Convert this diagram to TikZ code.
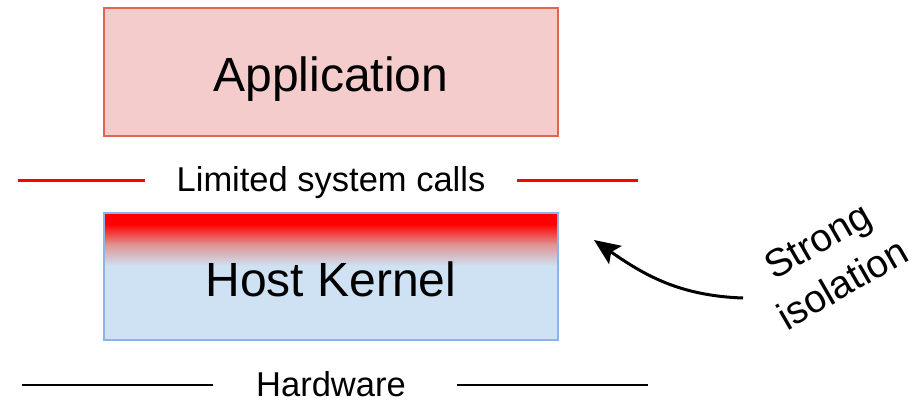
\documentclass[tikz,border=0pt]{standalone}
\usepackage{fontspec}
\setmainfont{Liberation Sans}
\usetikzlibrary{arrows.meta}
\definecolor{appfill}{HTML}{F4CCCC}
\definecolor{appline}{HTML}{E06650}
\definecolor{kernfill}{HTML}{CFE2F3}
\definecolor{kernline}{HTML}{8AB4EC}
\definecolor{callred}{HTML}{FF0000}
\tikzset{
  layerbox/.style={draw, line width=1.5pt},
  bigtext/.style={font=\fontsize{48}{56}\selectfont, inner sep=0pt, anchor=base},
  smalltext/.style={font=\fontsize{34.5}{40}\selectfont, inner sep=0pt, anchor=base},
  callline/.style={callred, line width=3pt},
  hwline/.style={black, line width=2pt},
}
\begin{document}
\begin{tikzpicture}[x=1pt, y=-1pt]
\useasboundingbox (0,0) rectangle (918,402);

% application layer
\draw[layerbox, fill=appfill, draw=appline] (104,8) rectangle (558,136);
\node[bigtext] (app) at (331,91) {Application};

% system call boundary
\node[smalltext] (calls) at (331,191) {Limited system calls};
\coordinate (cl1) at (18,180);
\coordinate (cl2) at (145,180);
\coordinate (cr1) at (517,180);
\coordinate (cr2) at (638,180);
\draw[callline] (cl1) -- (cl2);
\draw[callline] (cr1) -- (cr2);

% host kernel with red top edge fading into blue
\fill[kernfill] (104,213) rectangle (558,340);
\fill[callred] (104,213) rectangle (558,224);
\shade[top color=callred, bottom color=kernfill, middle color={rgb,255:red,222;green,150;blue,150}] (104,224) rectangle (558,266);
\draw[layerbox, draw=kernline] (104,213) rectangle (558,340);
\node[bigtext] (kernel) at (331,296) {Host Kernel};

% hardware boundary
\node[smalltext] (hw) at (331,396) {Hardware};
\coordinate (hl1) at (22,385);
\coordinate (hl2) at (213,385);
\coordinate (hr1) at (457,385);
\coordinate (hr2) at (648,385);
\draw[hwline] (hl1) -- (hl2);
\draw[hwline] (hr1) -- (hr2);

% isolation annotation
\node[font=\fontsize{39}{50}\selectfont, align=center, rotate=30, inner sep=0pt] (iso) at (830,262) {Strong\\isolation};
\coordinate (arrstart) at (743,298);
\coordinate (arrend) at (594,240);
\draw[line width=3pt, -{Stealth[length=26pt, width=22pt, inset=5pt]}] (arrstart) to[out=178, in=-35] (arrend);
\end{tikzpicture}
\end{document}
